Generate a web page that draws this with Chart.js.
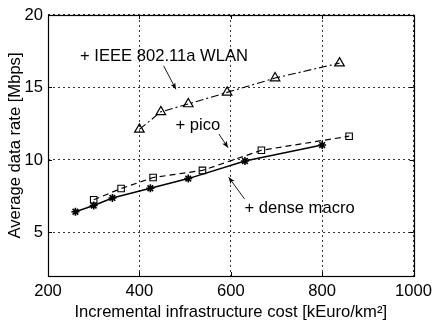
<!DOCTYPE html>
<html>
<head>
<meta charset="utf-8">
<script src="https://cdn.jsdelivr.net/npm/chart.js@4/dist/chart.umd.min.js"></script>
<style>
  html, body { margin: 0; padding: 0; background: #fff; }
  #wrap { width: 437px; height: 324px; }
</style>
</head>
<body>
<div id="wrap"><canvas id="c" width="437" height="324"></canvas></div>
<script>
// Incremental infrastructure cost [kEuro/km²] vs. average data rate [Mbps]
const macroCost = [260, 300, 341, 424, 507, 631, 800];
const macroRate = [6.43, 6.86, 7.38, 8.05, 8.72, 9.93, 11.03];

const picoCost = [300, 360, 430, 538, 667, 859];
const picoRate = [7.26, 8.03, 8.79, 9.28, 10.67, 11.64];

const wlanCost = [400, 447, 507, 592, 697, 838];
const wlanRate = [12.11, 13.32, 13.86, 14.66, 15.65, 16.68];

const xTicks = [200, 400, 600, 800, 1000];
const yTicks = [5, 10, 15, 20];

const seriesLabels = ['+ dense macro', '+ pico', '+ IEEE 802.11a WLAN'];

// Callouts: text anchor and arrow tail/head, in data units
const callouts = [
  { text: seriesLabels[2], at: [270, 17.13], tail: [453, 16.5], head: [480, 14.87] },
  { text: seriesLabels[1], at: [479, 12.37], tail: [574, 11.79], head: [594, 10.85] },
  { text: seriesLabels[0], at: [630, 6.66], tail: [630, 7.32], head: [595.5, 8.81] }
];

const FONT = 'Liberation Sans, Arial, Helvetica, sans-serif';
const FSIZE = 16.6;

const toXY = (xs, ys) => xs.map((x, i) => ({ x, y: ys[i] }));

const framePlugin = {
  id: 'frameAndCallouts',
  afterDraw(chart) {
    const { ctx, chartArea: a, scales } = chart;
    const xs = scales.x, ys = scales.y;
    ctx.save();
    // inward tick marks on all four sides
    ctx.strokeStyle = '#000';
    ctx.lineWidth = 1;
    ctx.beginPath();
    xTicks.forEach(v => {
      const px = Math.round(xs.getPixelForValue(v)) + 0.5;
      ctx.moveTo(px, a.bottom); ctx.lineTo(px, a.bottom - 4);
      ctx.moveTo(px, a.top); ctx.lineTo(px, a.top + 4);
    });
    yTicks.forEach(v => {
      const py = Math.round(ys.getPixelForValue(v)) + 0.5;
      ctx.moveTo(a.left, py); ctx.lineTo(a.left + 4, py);
      ctx.moveTo(a.right, py); ctx.lineTo(a.right - 4, py);
    });
    ctx.stroke();
    // box
    ctx.lineWidth = 1.2;
    ctx.strokeRect(Math.round(a.left) + 0.5, Math.round(a.top) + 0.5,
                   Math.round(a.right - a.left), Math.round(a.bottom - a.top));

    // callout labels with arrows
    ctx.fillStyle = '#000';
    ctx.font = FSIZE + 'px ' + FONT;
    ctx.textBaseline = 'middle';
    ctx.textAlign = 'left';
    callouts.forEach(c => {
      ctx.fillText(c.text, xs.getPixelForValue(c.at[0]), ys.getPixelForValue(c.at[1]));
      const x0 = xs.getPixelForValue(c.tail[0]), y0 = ys.getPixelForValue(c.tail[1]);
      const x1 = xs.getPixelForValue(c.head[0]), y1 = ys.getPixelForValue(c.head[1]);
      ctx.lineWidth = 0.9;
      ctx.beginPath();
      ctx.moveTo(x0, y0); ctx.lineTo(x1, y1);
      ctx.stroke();
      const ang = Math.atan2(y1 - y0, x1 - x0);
      const L = 7, w = 0.38;
      ctx.beginPath();
      ctx.moveTo(x1, y1);
      ctx.lineTo(x1 - L * Math.cos(ang - w), y1 - L * Math.sin(ang - w));
      ctx.lineTo(x1 - L * 0.7 * Math.cos(ang), y1 - L * 0.7 * Math.sin(ang));
      ctx.lineTo(x1 - L * Math.cos(ang + w), y1 - L * Math.sin(ang + w));
      ctx.closePath();
      ctx.fill();
    });
    ctx.restore();
  }
};

new Chart(document.getElementById('c'), {
  type: 'scatter',
  data: {
    datasets: [
      {
        label: seriesLabels[0],
        data: toXY(macroCost, macroRate),
        showLine: true,
        borderColor: '#000',
        borderWidth: 1.4,
        pointStyle: 'star',
        pointRadius: 4,
        pointBorderWidth: 1.6,
        pointBorderColor: '#000',
        pointBackgroundColor: '#000'
      },
      {
        label: seriesLabels[1],
        data: toXY(picoCost, picoRate),
        showLine: true,
        borderColor: '#000',
        borderWidth: 1.2,
        borderDash: [6, 4],
        pointStyle: 'rect',
        pointRadius: 4.6,
        pointBorderWidth: 1.1,
        pointBorderColor: '#000',
        pointBackgroundColor: 'rgba(0,0,0,0)'
      },
      {
        label: seriesLabels[2],
        data: toXY(wlanCost, wlanRate),
        showLine: true,
        borderColor: '#000',
        borderWidth: 1.1,
        borderDash: [8, 3, 2, 3],
        pointStyle: 'triangle',
        pointRadius: 5.5,
        pointBorderWidth: 1.2,
        pointBorderColor: '#000',
        pointBackgroundColor: 'rgba(0,0,0,0)'
      }
    ]
  },
  options: {
    responsive: false,
    animation: false,
    devicePixelRatio: 1,
    layout: { padding: { top: 9, right: 18, left: 0, bottom: 0 } },
    plugins: {
      legend: { display: false },
      tooltip: { enabled: false }
    },
    scales: {
      x: {
        type: 'linear',
        min: 200,
        max: 1000,
        afterBuildTicks: s => { s.ticks = xTicks.map(v => ({ value: v })); },
        afterFit: s => { s.height = 48; },
        ticks: { color: '#000', padding: 5, font: { family: FONT, size: FSIZE }, maxRotation: 0,
                 callback: v => String(v) },
        grid: { color: '#000', lineWidth: 0.8, drawTicks: false },
        border: { display: false, dash: [2, 3] },
        title: {
          display: true,
          text: 'Incremental infrastructure cost [kEuro/km²]',
          color: '#000',
          font: { family: FONT, size: FSIZE },
          padding: { top: 0, bottom: 2 }
        }
      },
      y: {
        type: 'linear',
        min: 2,
        max: 20,
        afterBuildTicks: s => { s.ticks = yTicks.map(v => ({ value: v })); },
        afterFit: s => { s.width = 48; },
        ticks: { color: '#000', padding: 5, font: { family: FONT, size: FSIZE },
                 callback: v => String(v) },
        grid: { color: '#000', lineWidth: 0.8, drawTicks: false },
        border: { display: false, dash: [2, 3] },
        title: {
          display: true,
          text: 'Average data rate [Mbps]',
          color: '#000',
          font: { family: FONT, size: FSIZE },
          padding: { top: 5, bottom: 0 }
        }
      }
    }
  },
  plugins: [framePlugin]
});
</script>
</body>
</html>
